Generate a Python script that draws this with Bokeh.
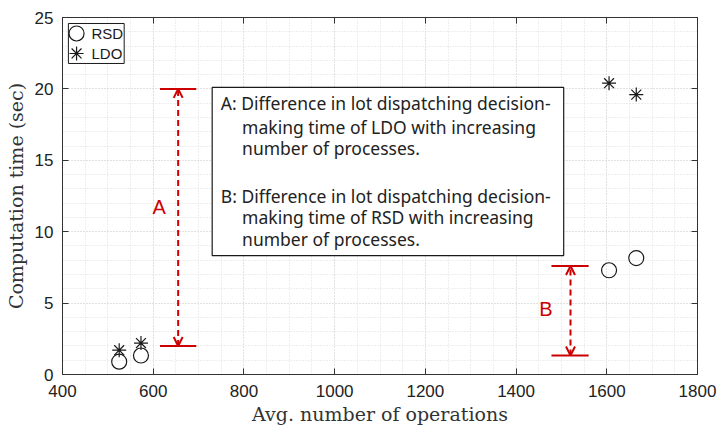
from bokeh.plotting import figure
from bokeh.models import LinearAxis, SingleIntervalTicker, Range1d, Arrow, OpenHead, CustomJSTickFormatter
from bokeh.core.properties import value
from bokeh.embed import file_html
from bokeh.resources import INLINE

# ---- data ----
rsd_ops = [525, 573, 1605, 1665]
rsd_time = [0.9, 1.33, 7.3, 8.15]
ldo_ops = [525, 573, 1605, 1665]
ldo_time = [1.7, 2.2, 20.4, 19.6]
series_names = ["RSD", "LDO"]

# annotation A (LDO difference) and B (RSD difference)
a_x, a_low, a_high = 655, 2.0, 20.0
b_x, b_low, b_high = 1520, 1.33, 7.6
note_lines = [
    "A: Difference in lot dispatching decision-",
    "making time of LDO with increasing",
    "number of processes.",
    "B: Difference in lot dispatching decision-",
    "making time of RSD with increasing",
    "number of processes.",
]

RED = "#cc0000"
INK = "#1a1a1a"
TICK_FONT = "Liberation Sans"
SERIF = "DejaVu Serif"

p = figure(width=720, height=430, output_backend="svg", toolbar_location=None,
           x_range=Range1d(400, 1800), y_range=Range1d(0, 25),
           min_border_left=62, min_border_right=23, min_border_top=17, min_border_bottom=56)
p.outline_line_color = "#222222"

xt = SingleIntervalTicker(interval=200, num_minor_ticks=4)
yt = SingleIntervalTicker(interval=5, num_minor_ticks=5)
p.xaxis.ticker = xt
p.yaxis.ticker = yt
p.xgrid.ticker = xt
p.ygrid.ticker = yt
for g in (p.xgrid, p.ygrid):
    g.grid_line_color = "#d4d4d4"
    g.grid_line_dash = "1 2"
    g.minor_grid_line_color = "#dcdcdc"
    g.minor_grid_line_dash = "1 2"

for ax in (p.xaxis[0], p.yaxis[0]):
    ax.major_label_text_font = TICK_FONT
    ax.major_label_text_font_size = "17px"
    ax.major_label_text_color = "#222222"
    ax.axis_label_text_font = SERIF
    ax.axis_label_text_font_style = "normal"
    ax.axis_label_text_font_size = "19px"
    ax.axis_label_text_color = "#333333"
    ax.major_tick_in = 6
    ax.major_tick_out = 0
    ax.minor_tick_line_color = None
    ax.axis_line_color = "#333333"
    ax.major_tick_line_color = "#333333"
p.xaxis.axis_label = "Avg. number of operations"
p.yaxis.axis_label = "Computation time (sec)"
p.xaxis.major_label_standoff = 6
p.xaxis.axis_label_standoff = 3
p.yaxis.major_label_standoff = 5
p.yaxis.axis_label_standoff = 5

blank = CustomJSTickFormatter(code="return ''")
for side, tk in (("above", xt), ("right", yt)):
    ax = LinearAxis(ticker=tk, formatter=blank, major_tick_in=6,
                    major_tick_out=0, minor_tick_line_color=None,
                    axis_line_color="#333333", major_tick_line_color="#333333",
                    major_label_standoff=0, major_label_text_color=None)
    p.add_layout(ax, side)

# data
p.scatter(rsd_ops, rsd_time, marker="circle", size=15, fill_color=None,
          line_color=INK, line_width=1.2)
p.scatter(ldo_ops, ldo_time, marker="asterisk", size=14, line_color=INK, line_width=1.2)

# annotation A
p.segment(x0=[a_x - 40, a_x - 40], x1=[a_x + 40, a_x + 40], y0=[a_low, a_high], y1=[a_low, a_high],
          line_color=RED, line_width=2)
p.add_layout(Arrow(x_start=a_x, y_start=a_low, x_end=a_x, y_end=a_high,
                   line_color=RED, line_width=2, line_dash="6 4",
                   start=OpenHead(size=9, line_color=RED, line_width=2),
                   end=OpenHead(size=9, line_color=RED, line_width=2)))
p.text(x=[a_x - 42], y=[(a_low + a_high) / 2 + 0.7], text=["A"], text_color=RED,
       text_font=value(TICK_FONT), text_font_size="20px", text_align="center",
       text_baseline="middle")

# annotation B
p.segment(x0=[b_x - 42, b_x - 42], x1=[b_x + 40, b_x + 40], y0=[b_low, b_high], y1=[b_low, b_high],
          line_color=RED, line_width=2)
p.add_layout(Arrow(x_start=b_x, y_start=b_low, x_end=b_x, y_end=b_high,
                   line_color=RED, line_width=2, line_dash="6 4",
                   start=OpenHead(size=9, line_color=RED, line_width=2),
                   end=OpenHead(size=9, line_color=RED, line_width=2)))
p.text(x=[b_x - 54], y=[(b_low + b_high) / 2 + 0.1], text=["B"], text_color=RED,
       text_font=value(TICK_FONT), text_font_size="20px", text_align="center",
       text_baseline="middle")

# note box
p.quad(left=[730], right=[1505], top=[20.1], bottom=[8.33], fill_color="white",
       line_color=INK, line_width=1.2)
note_x = [749, 796, 796, 749, 796, 796]
note_y = [18.98, 17.3, 15.83, 12.53, 11.0, 9.52]
p.text(x=note_x, y=note_y, text=note_lines, text_color="#222222",
       text_font=value("Noto Sans"), text_font_size="17.5px", text_baseline="middle")

# legend (drawn in the top-left corner)
p.quad(left=[413], right=[536], top=[24.58], bottom=[21.78], fill_color="white",
       line_color=INK, line_width=1)
p.scatter([431], [23.88], marker="circle", size=15, fill_color=None, line_color=INK, line_width=1.2)
p.scatter([431], [22.48], marker="asterisk", size=14, line_color=INK, line_width=1.2)
p.text(x=[464, 464], y=[23.88, 22.48], text=series_names, text_color=INK,
       text_font=value(TICK_FONT), text_font_size="15px", text_baseline="middle")

open("out.html", "w").write(file_html(p, INLINE))
